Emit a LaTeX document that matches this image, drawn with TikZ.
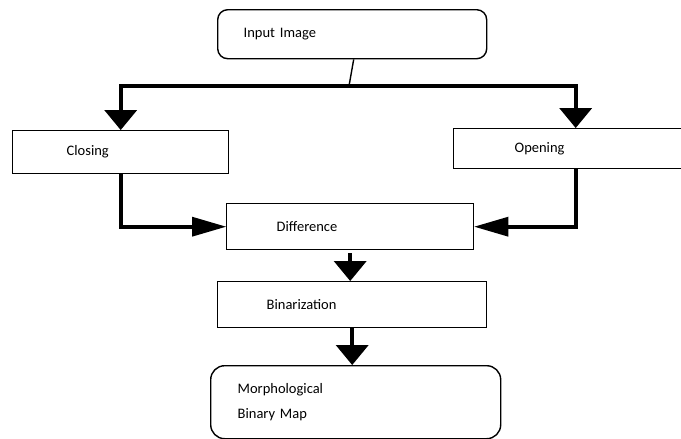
\documentclass[tikz,border=0pt]{standalone}
\usepackage{fontspec}
\setmainfont{Carlito}
\usetikzlibrary{arrows.meta}
\begin{document}
\begin{tikzpicture}[x=1pt,y=-1pt,
  box/.style={draw, line width=1.4pt, anchor=north west, align=left, inner ysep=0pt,
    font=\fontsize{14.5}{25}\selectfont},
  rbox/.style={box, rounded corners=10pt},
  conn/.style={line width=3.6pt, line join=miter},
  arrV/.style={-{Triangle[length=20pt,width=33pt,line width=0pt]}},
  arrH/.style={-{Triangle[length=34pt,width=20pt,line width=0pt]}},
  thinline/.style={line width=1.4pt}]
\useasboundingbox (0,0) rectangle (681,439);
\node[rbox, minimum height=49pt, inner xsep=26pt, text width=217pt] (in) at (217,9) {Input Image};
\node[box, minimum height=43pt, inner xsep=54pt, text width=108pt] (close) at (12,130) {Closing};
\node[box, minimum height=40pt, inner xsep=61pt, text width=122pt] (open) at (453,128) {Opening};
\node[box, minimum height=46pt, inner xsep=50pt, text width=147pt] (diff) at (226,203) {Difference};
\node[box, minimum height=46pt, inner xsep=49pt, text width=171pt] (bin) at (217,281) {Binarization};
\node[rbox, rounded corners=14pt, minimum height=73pt, inner xsep=27pt, text width=236pt] (morph) at (210,365) {Morphological\\Binary Map};
\coordinate (bus) at (349,86);
\draw[thinline] ([xshift=1.5pt]in.south) -- (bus);
\draw[conn, arrV] (bus) -| (close.north);
\draw[conn, arrV] (bus) -| (open.north);
\draw[conn, arrH] (close.south) |- (diff.west);
\draw[conn, arrH] (open.south) |- (diff.east);
\draw[conn, arrV] ([yshift=-3pt]diff.south) -- (diff.south |- bin.north);
\draw[conn, arrV] (bin.south) -- (bin.south |- morph.north);
\end{tikzpicture}
\end{document}
